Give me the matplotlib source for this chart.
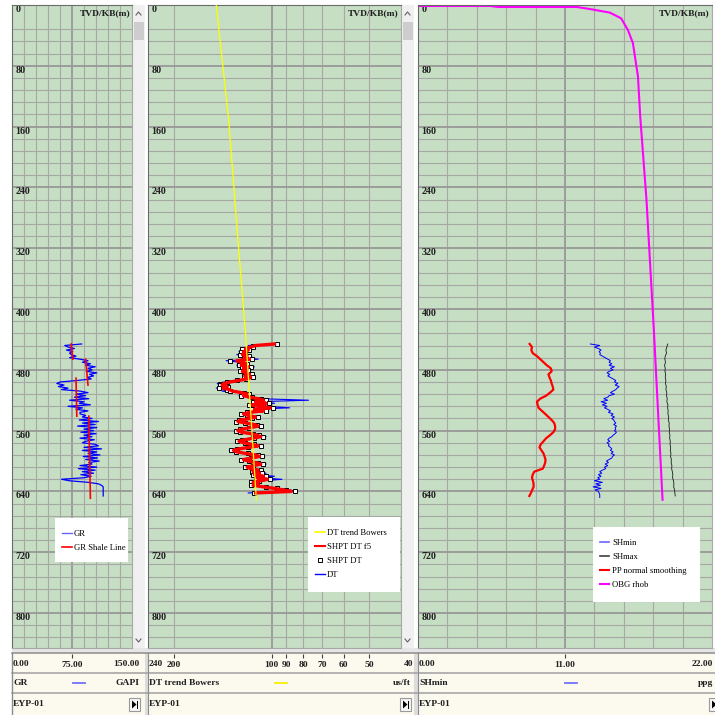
import numpy as np
import matplotlib
matplotlib.use("Agg")
import matplotlib.pyplot as plt
from matplotlib.patches import Rectangle, Polygon
from matplotlib.lines import Line2D
from matplotlib.ticker import FixedLocator, NullFormatter

# ---- data (depth in m TVD/KB) ----
gr_top, gr_step = 446, 2
gr = [87, 66, 70, 78, 68, 76, 72, 74, 80, 72, 85, 95, 88,
      98, 92, 104, 95, 100, 93, 106, 97, 102, 94, 99, 82,
      60, 56, 65, 58, 70, 62, 85, 95, 80, 92,
      78, 96, 72, 90, 84, 98, 70, 88, 80, 95, 85, 85, 92, 88,
      100, 84, 108, 88, 104, 82, 106, 90,
      102, 86, 105, 90, 100, 85, 103, 92, 88, 104,
      108, 90, 112, 88, 106, 95, 110, 89, 107, 92, 109, 96,
      100, 85, 106, 83, 104, 88, 102, 86, 99, 90,
      62, 72, 95, 108, 112, 114, 114, 114, 114, 114, 114, 114]

# GR shale line: piecewise segments
shale_depth_top = [446, 466, 491, 541]
shale_depth_bot = [466, 500, 541, 649]
shale_gr_top = [74, 92, 80, 96]
shale_gr_bot = [76, 95, 81, 98]

dt_top, dt_step = 446, 2
dt = [97, 118, 112, 122, 116, 126, 119, 128, 115, 124, 110, 138, 125,
      118, 128, 113, 124, 117, 126, 120, 114, 122, 112, 118,
      130, 140, 147, 145, 138, 148, 136, 142, 125, 118, 126, 114,
      108, 77, 112, 98, 118, 104, 88, 116, 102, 120,
      124, 116, 109, 118, 127, 130, 119, 110, 106, 118, 126,
      130, 122, 113, 108, 104, 117, 124, 129, 120, 112,
      106, 119, 129, 135, 126, 117, 108, 105, 118, 125,
      116, 109, 104, 115, 122, 113, 107, 116,
      104, 112, 98, 110, 93, 106, 115,
      109, 117, 104, 95, 88, 84, 118]
shpt_dt_f5 = [98, 112, 116, 120, 118, 122, 120, 123, 119, 121, 117, 128, 124,
              120, 124, 118, 122, 119, 123, 120, 117, 121, 116, 119,
              126, 134, 140, 142, 137, 141, 135, 132, 124, 119, 122, 117,
              110, 106, 112, 104, 115, 108, 101, 113, 106, 117,
              122, 118, 112, 116, 124, 127, 120, 113, 110, 116, 123,
              127, 124, 116, 111, 108, 114, 121, 126, 122, 115,
              110, 117, 126, 131, 128, 120, 112, 109, 115, 122,
              118, 112, 108, 113, 119, 116, 110, 114,
              109, 113, 106, 111, 103, 108, 114,
              110, 114, 106, 98, 92, 87, 112]
shpt_dt = [96, 114, 114, 123, 117, 124, 121, 125, 117, 122, 115, 134, 126,
           119, 126, 116, 123, 118, 125, 121, 115, 122, 114, 120,
           128, 137, 144, 144, 136, 145, 137, 134, 122, 117, 124, 115,
           108, 104, 114, 102, 117, 106, 99, 115, 104, 119,
           124, 119, 110, 115, 126, 129, 121, 111, 108, 117, 125,
           129, 125, 114, 109, 106, 113, 123, 128, 121, 113,
           108, 118, 128, 133, 129, 118, 110, 107, 116, 124,
           117, 110, 106, 114, 121, 115, 108, 115,
           107, 114, 104, 112, 101, 109, 116,
           111, 116, 104, 96, 90, 85, 113]

dt_trend_depth = [0, 75, 150, 300, 430, 540, 651]
dt_trend = [148, 141.7, 135.6, 127.4, 120.4, 115.8, 111.4]

pp_top, pp_step = 446, 4
pp_smooth = [8.35, 8.53, 8.48, 8.58, 8.9, 9.15, 9.39, 9.64, 9.94, 10.0,
             9.76, 9.84, 9.94, 10.0, 10.08, 10.13, 9.88, 9.59, 9.14, 8.9,
             8.95, 9.02, 9.27, 9.52, 9.76, 10.0, 10.19, 10.26, 10.26, 10.13,
             9.88, 9.59, 9.39, 9.19, 9.09, 9.24, 9.39, 9.47, 9.54, 9.52,
             9.44, 9.34, 8.7, 8.58, 8.53, 8.6, 8.65, 8.65, 8.55, 8.45, 8.33]

shmin_top, shmin_step = 446, 2
shmin = [12.9, 13.6, 13.2, 13.5, 13.7, 13.55, 13.65, 13.6,
         13.8, 14.0, 14.2, 14.4, 14.3, 14.5, 14.3, 14.7, 14.4, 14.6,
         14.3, 14.15, 14.35, 14.2, 14.4,
         14.6, 14.8, 14.7, 14.95, 14.75, 15.05, 14.9, 14.8,
         14.6, 14.4, 14.7, 14.3, 14.2,
         13.9, 14.2, 13.7, 14.1, 13.8, 14.15, 13.95,
         14.2, 14.4, 14.25, 14.6, 14.45, 14.7, 14.5, 14.65,
         14.7, 14.8, 14.65, 14.85, 14.75, 14.8, 14.7, 14.85, 14.75, 14.6, 14.5,
         14.3, 14.2, 14.35, 14.15, 14.3, 14.25, 14.4,
         14.5, 14.4, 14.6, 14.45, 14.7, 14.55, 14.5,
         14.3, 14.1, 14.25, 14.0, 14.2, 13.95, 14.05,
         13.8, 13.6, 13.75, 13.5, 13.7, 13.45,
         13.6, 13.2, 13.8, 13.3, 13.65, 13.1, 13.7, 13.25, 13.5,
         13.55, 13.6, 13.6, 13.6]

shmax_top, shmax_step = 446, 4
shmax = [18.69, 18.62, 18.55, 18.6, 18.5, 18.47, 18.52, 18.45, 18.5, 18.48,
         18.53, 18.5, 18.55, 18.52, 18.58, 18.55, 18.62, 18.6, 18.65, 18.62,
         18.7, 18.68, 18.72, 18.7, 18.76, 18.73, 18.8, 18.78, 18.82, 18.8,
         18.85, 18.83, 18.88, 18.86, 18.9, 18.88, 18.93, 18.9, 18.96, 18.94,
         19.0, 18.98, 19.03, 19.07, 19.05, 19.12, 19.15, 19.13, 19.2, 19.22, 19.25]

obg_depth = [1.3, 1.3, 2.6, 2.6, 5.3, 10, 17.5, 33, 50, 94, 147, 257, 428, 651]
obg_rhob = [0, 5.4, 6.0, 11.9, 12.86, 14.35, 15.2, 15.71, 16.08, 16.46, 16.63, 17.1, 17.65, 18.3]

depth_major = list(range(0, 801, 80))
depth_minor = [d for d in range(32, 846, 16) if d % 80]
DEPTH_MAX = 846


def depths(top, step, values):
    return top + step * np.arange(len(values))


# ---- layout helpers (pixel coordinates of the 715x715 screenshot) ----
W, H, DPI = 715, 715, 100
SERIF = "Liberation Serif"
GREEN = "#c6dfc4"
GRID_MINOR = "#a6a8a5"
GRID_MAJOR = "#979897"
CREAM = "#fcf9ef"
FS = 6.8


def box(x0, y0, x1, y1):
    return [x0 / W, 1 - y1 / H, (x1 - x0) / W, (y1 - y0) / H]


fig = plt.figure(figsize=(W / DPI, H / DPI), dpi=DPI, facecolor="white")

chrome = fig.add_axes([0, 0, 1, 1])
chrome.set_zorder(-1)
chrome.set_xlim(0, W)
chrome.set_ylim(H, 0)
chrome.axis("off")


def depth_panel(x0, x1, xlim, major_x, minor_x, log=False):
    ax = fig.add_axes(box(x0, 5, x1, 648))
    ax.set_facecolor(GREEN)
    if log:
        ax.set_xscale("log")
    ax.set_xlim(*xlim)
    ax.set_ylim(DEPTH_MAX, 0)
    ax.xaxis.set_major_locator(FixedLocator(major_x))
    ax.xaxis.set_minor_locator(FixedLocator(minor_x))
    ax.xaxis.set_major_formatter(NullFormatter())
    ax.xaxis.set_minor_formatter(NullFormatter())
    ax.set_yticks(depth_major, labels=[str(d) for d in depth_major],
                  ha="left", va="top", family=SERIF, weight="bold",
                  fontsize=7.2, color="#202020")
    ax.yaxis.set_minor_locator(FixedLocator(depth_minor))
    ax.tick_params(which="both", length=0)
    ax.tick_params(axis="y", pad=-2.5)
    ax.grid(which="major", color=GRID_MAJOR, lw=1.3)
    ax.grid(which="minor", color=GRID_MINOR, lw=0.8)
    ax.set_axisbelow(True)
    for side in ("left", "top"):
        ax.spines[side].set_color("#6a6a6a")
    for side in ("right", "bottom"):
        ax.spines[side].set_color("#a8a8a8")
    ax.text(0.99, 0.994, "TVD/KB(m)", transform=ax.transAxes, ha="right",
            va="top", family=SERIF, weight="bold", fontsize=FS, color="#202020")
    return ax


def legend_box(ax, x0, y0, x1, y1, handles, labels):
    ax.add_patch(Rectangle((x0, y0), x1 - x0, y1 - y0, transform=chrome.transData,
                           facecolor="white", edgecolor="none", clip_on=False,
                           zorder=8))
    leg = ax.legend(handles, labels, loc="upper left",
                    bbox_to_anchor=((x0 + 1) / W, 1 - (y0 + 6) / H),
                    bbox_transform=fig.transFigure, frameon=False,
                    prop={"family": SERIF, "size": 6.2}, handlelength=1.1,
                    handletextpad=0.3, labelspacing=0.68, borderpad=0.2)
    leg.set_zorder(9)


# ---- panel 1: GR ----
ax1 = depth_panel(12, 132, (0, 150), [75], [15, 30, 45, 60, 90, 105, 120, 135])
ax1.plot(gr, depths(gr_top, gr_step, gr), color="#0000ff", lw=0.9, zorder=3)
for dtop, dbot, gtop, gbot in zip(shale_depth_top, shale_depth_bot, shale_gr_top, shale_gr_bot):
    ax1.plot([gtop, gbot], [dtop, dbot], color="#ff0000", lw=1.2, zorder=4)
legend_box(ax1, 55, 518, 128, 562,
           [Line2D([], [], color="#6666ff", lw=1), Line2D([], [], color="#ff0000", lw=1.2)],
           ["GR", "GR Shale Line"])

# ---- panel 2: DT ----
ax2 = depth_panel(148, 401, (240, 40), [100], [200, 90, 80, 70, 60, 50], log=True)
dt_d = depths(dt_top, dt_step, dt)
ax2.plot(dt, dt_d, color="#0000ff", lw=0.8, zorder=2)
ax2.plot(shpt_dt, dt_d, ls="none", marker="s", ms=2.8, mfc="white", mec="black",
         mew=0.7, zorder=3)
ax2.plot(shpt_dt_f5, dt_d, color="#ff0000", lw=2.4, zorder=4)
ax2.plot(dt_trend, dt_trend_depth, color="#ffff00", lw=0.9, zorder=5)
legend_box(ax2, 308, 517, 400, 592,
           [Line2D([], [], color="#ffff00", lw=1.2), Line2D([], [], color="#ff0000", lw=1.5),
            Line2D([], [], ls="none", marker="s", ms=2.5, mfc="white", mec="black", mew=0.7),
            Line2D([], [], color="#0000ff", lw=1)],
           ["DT trend Bowers", "SHPT DT f5", "SHPT DT", "DT"])

# ---- panel 3: pressures ----
ax3 = depth_panel(418, 712, (0, 22), [11],
                  [2.2, 4.4, 6.6, 8.8, 13.2, 15.4, 17.6, 19.8])
ax3.plot(obg_rhob, obg_depth, color="#ff00ff", lw=1.5, zorder=2)
ax3.plot(shmin, depths(shmin_top, shmin_step, shmin), color="#0000ff", lw=0.7, zorder=3)
ax3.plot(shmax, depths(shmax_top, shmax_step, shmax), color="#1a1a1a", lw=0.6, zorder=3)
ax3.plot(pp_smooth, depths(pp_top, pp_step, pp_smooth), color="#ff0000", lw=1.6, zorder=4)
legend_box(ax3, 593, 527, 700, 602,
           [Line2D([], [], color="#6666ff", lw=1.2), Line2D([], [], color="#404040", lw=1.2),
            Line2D([], [], color="#ff0000", lw=1.5), Line2D([], [], color="#ff00ff", lw=1.5)],
           ["SHmin", "SHmax", "PP normal smoothing", "OBG rhob"])

# ---- scrollbars ----
for sx0, sx1 in [(132, 145), (401, 414)]:
    chrome.add_patch(Rectangle((sx0, 5), sx1 - sx0, 643, facecolor="#f0f0f0", edgecolor="none"))
    chrome.add_patch(Rectangle((sx0 + 1.5, 22), sx1 - sx0 - 3, 18, facecolor="#cdcdcd",
                               edgecolor="none"))
    cx = (sx0 + sx1) / 2
    chrome.plot([cx - 2.5, cx, cx + 2.5], [15, 12, 15], color="#606060", lw=0.8)
    chrome.plot([cx - 2.5, cx, cx + 2.5], [639, 642, 639], color="#606060", lw=0.8)

# ---- header (track scales, curve names, well) ----
chrome.add_patch(Rectangle((12, 648), W - 12, 5, facecolor="#e6e6e6", edgecolor="none"))
chrome.add_patch(Rectangle((12, 653), W - 12, H - 653, facecolor=CREAM, edgecolor="none"))
for hy, hc in [(653, "#8c8c8c"), (673, "#a0a0a0"), (693, "#a0a0a0")]:
    chrome.plot([12, W], [hy, hy], color=hc, lw=1.1)
chrome.plot([12, 12], [653, H], color="#8c8c8c", lw=1)
for vx0, vx1 in [(145, 148), (414, 418)]:
    chrome.add_patch(Rectangle((vx0, 653), vx1 - vx0, H - 653, facecolor="#dcdcdc",
                               edgecolor="none"))
    chrome.plot([vx1, vx1], [653, H], color="#8c8c8c", lw=0.8)

hdr_font = dict(family=SERIF, weight="bold", fontsize=FS, color="#202020", va="center")

for hx0, hx1, xlim, ticks, log in [(12, 132, (0, 150), [75], False),
                                   (148, 401, (240, 40), [200, 100, 90, 80, 70, 60, 50], True),
                                   (418, 712, (0, 22), [11], False)]:
    hx = fig.add_axes(box(hx0, 654, hx1, 660))
    hx.patch.set_alpha(0)
    if log:
        hx.set_xscale("log")
        hx.xaxis.set_minor_locator(FixedLocator([]))
    hx.set_xlim(*xlim)
    labels = [f"{t:.2f}" if not log else str(t) for t in ticks]
    hx.set_xticks(ticks, labels=labels, family=SERIF, weight="bold", fontsize=FS,
                  color="#202020")
    hx.set_yticks([])
    hx.tick_params(axis="x", top=True, bottom=False, labeltop=False, labelbottom=True,
                   direction="in", length=3, width=0.8, color="#404040", pad=0.5)
    for s in hx.spines.values():
        s.set_visible(False)

# scale end values
chrome.text(13, 664, "0.00", ha="left", **hdr_font)
chrome.text(139, 664, "150.00", ha="right", **hdr_font)
chrome.text(149, 664, "240", ha="left", **hdr_font)
chrome.text(413, 664, "40", ha="right", **hdr_font)
chrome.text(419, 664, "0.00", ha="left", **hdr_font)
chrome.text(713, 664, "22.00", ha="right", **hdr_font)

# curve name rows
chrome.text(13, 683, "GR", ha="left", **hdr_font)
chrome.text(139, 683, "GAPI", ha="right", **hdr_font)
chrome.plot([73, 85], [683, 683], color="#7070ff", lw=1.3)
chrome.text(149, 683, "DT trend Bowers", ha="left", **hdr_font)
chrome.text(411, 683, "us/ft", ha="right", **hdr_font)
chrome.plot([275, 287], [683, 683], color="#f5f000", lw=1.3)
chrome.text(419, 683, "SHmin", ha="left", **hdr_font)
chrome.text(713, 683, "ppg", ha="right", **hdr_font)
chrome.plot([565, 577], [683, 683], color="#7070ff", lw=1.3)

for wx, px in [(13, 129), (149, 400), (419, 709)]:
    chrome.text(wx, 704, "EYP-01", ha="left", **hdr_font)
    chrome.add_patch(Rectangle((px, 698), 11, 13, facecolor="#f6f6f6", edgecolor="#9a9a9a",
                               lw=0.8))
    chrome.add_patch(Polygon([(px + 3, 700.5), (px + 3, 708.5), (px + 7.5, 704.5)],
                             closed=True, facecolor="black", edgecolor="none"))
    chrome.add_patch(Rectangle((px + 7.8, 700.5), 1.4, 8, facecolor="black", edgecolor="none"))

fig.savefig("out.png", dpi=DPI, facecolor="white")
